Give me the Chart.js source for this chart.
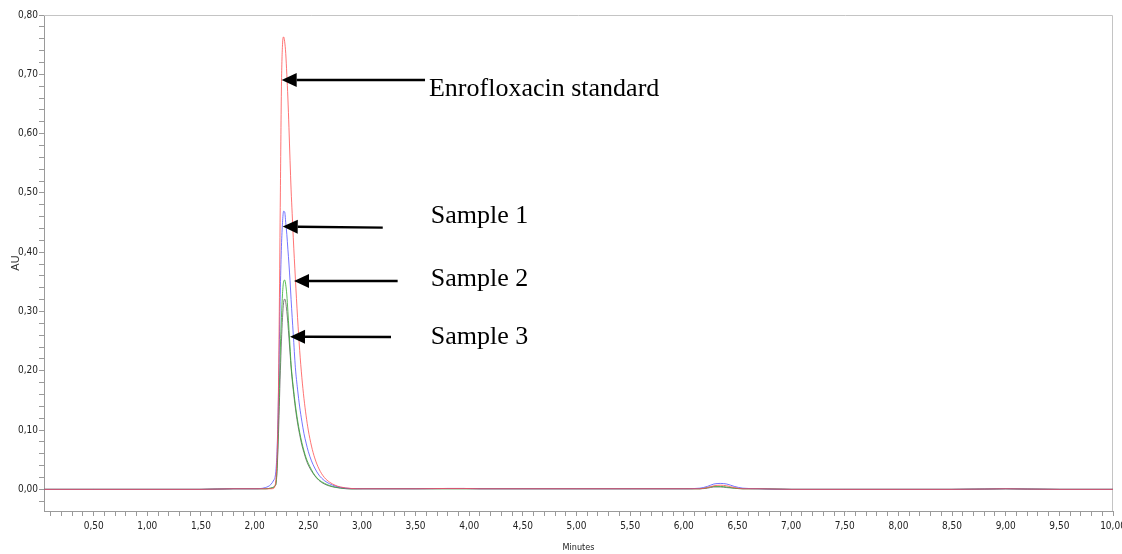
<!DOCTYPE html>
<html>
<head>
<meta charset="utf-8">
<script src="https://cdn.jsdelivr.net/npm/chart.js@4/dist/chart.umd.min.js"></script>
<style>
  html, body { margin: 0; padding: 0; background: #ffffff; }
  #wrap { width: 1122px; height: 554px; }
</style>
</head>
<body>
<div id="wrap"><canvas id="c" width="1122" height="554"></canvas></div>
<script>
// ---- data (minutes, AU) ----
const time = [0.04, 0.5, 1.0, 1.5, 1.8, 2.0, 2.1, 2.15, 2.18, 2.19,
  2.20, 2.21, 2.22, 2.23, 2.24, 2.25, 2.26, 2.27, 2.28, 2.29,
  2.30, 2.31, 2.32, 2.33, 2.34, 2.35, 2.36, 2.38, 2.40, 2.42,
  2.44, 2.46, 2.48, 2.50, 2.53, 2.56, 2.60, 2.65, 2.70, 2.75,
  2.80, 2.90, 3.0, 3.5, 3.8, 3.95, 4.1, 4.5, 5.0, 5.5,
  6.0, 6.15, 6.22, 6.28, 6.34, 6.40, 6.47, 6.55, 6.7, 7.0,
  7.5, 8.0, 8.5, 8.8, 9.0, 9.2, 9.5, 10.0];

const enrofloxacinStd = [0, 0, 0, 0, 0.001, 0.001, 0.001, 0.001, 0.002, 0.006,
  0.02, 0.06, 0.14, 0.30, 0.50, 0.68, 0.75, 0.763, 0.755, 0.735,
  0.70, 0.66, 0.61, 0.555, 0.505, 0.465, 0.425, 0.355, 0.29, 0.234,
  0.189, 0.153, 0.124, 0.100, 0.073, 0.053, 0.0345, 0.020, 0.012, 0.007,
  0.004, 0.0015, 0.001, 0.001, 0.0015, 0.0015, 0.001, 0.001, 0.001, 0.001,
  0.001, 0.001, 0.003, 0.006, 0.007, 0.006, 0.003, 0.001, 0.001, 0,
  0, 0, 0, 0.0005, 0.001, 0.0005, 0, 0];

const sample1 = [0, 0, 0, 0, 0.001, 0.001, 0.003, 0.008, 0.016, 0.02,
  0.035, 0.07, 0.14, 0.24, 0.34, 0.41, 0.45, 0.469, 0.468, 0.45,
  0.43, 0.405, 0.38, 0.352, 0.32, 0.29, 0.262, 0.205, 0.169, 0.139,
  0.115, 0.094, 0.078, 0.064, 0.048, 0.036, 0.024, 0.0148, 0.0093, 0.0057,
  0.0035, 0.0013, 0.001, 0.001, 0.0015, 0.0015, 0.001, 0.001, 0.001, 0.001,
  0.001, 0.002, 0.005, 0.009, 0.010, 0.009, 0.005, 0.002, 0.001, 0,
  0, 0, 0, 0.0005, 0.001, 0.0005, 0, 0];

const sample2 = [0, 0, 0, 0, 0.001, 0.001, 0.001, 0.002, 0.004, 0.006,
  0.012, 0.04, 0.10, 0.17, 0.24, 0.29, 0.33, 0.35, 0.353, 0.345,
  0.328, 0.30, 0.27, 0.24, 0.21, 0.19, 0.173, 0.142, 0.117, 0.096,
  0.079, 0.065, 0.053, 0.044, 0.033, 0.024, 0.016, 0.0103, 0.0063, 0.0039,
  0.0024, 0.0009, 0.001, 0.001, 0.001, 0.001, 0.001, 0.001, 0.001, 0.001,
  0.001, 0.001, 0.003, 0.005, 0.005, 0.004, 0.002, 0.001, 0.001, 0,
  0, 0, 0, 0.0005, 0.001, 0.0005, 0, 0];

const sample3 = [0, 0, 0, 0, 0.001, 0.001, 0.001, 0.002, 0.004, 0.006,
  0.01, 0.035, 0.08, 0.14, 0.20, 0.25, 0.29, 0.315, 0.321, 0.315,
  0.30, 0.28, 0.255, 0.23, 0.205, 0.185, 0.168, 0.137, 0.112, 0.092,
  0.075, 0.062, 0.050, 0.041, 0.031, 0.023, 0.015, 0.009, 0.0055, 0.0034,
  0.002, 0.0007, 0.001, 0.001, 0.001, 0.001, 0.001, 0.001, 0.001, 0.001,
  0.001, 0.001, 0.002, 0.004, 0.004, 0.003, 0.002, 0.001, 0.001, 0,
  0, 0, 0, 0.0005, 0.001, 0.0005, 0, 0];

const seriesNames = ['Enrofloxacin standard', 'Sample 1', 'Sample 2', 'Sample 3'];

// annotation labels: text, arrow tip [min, AU], arrow tail [min, AU], text anchor [min, AU baseline]
const labelTexts = ['Enrofloxacin standard', 'Sample 1', 'Sample 2', 'Sample 3'];
const arrowTips  = [[2.252, 0.6905], [2.262, 0.4431], [2.367, 0.3515], [2.330, 0.2575]];
const arrowTails = [[3.588, 0.6905], [3.194, 0.4414], [3.333, 0.3515], [3.271, 0.2570]];
const textAnchors = [[3.625, 0.6635], [3.641, 0.4488], [3.641, 0.3436], [3.641, 0.2447]];

// ---- helpers ----
function pts(ys) { return time.map((t, i) => ({ x: t, y: ys[i] })); }
function fmt(v) { return v.toFixed(2).replace('.', ','); }
function isMult(v, step) { const r = v / step; return Math.abs(r - Math.round(r)) < 1e-6; }

const frameAndArrows = {
  id: 'frameAndArrows',
  beforeDatasetsDraw(chart) {
    const { ctx, chartArea: a } = chart;
    ctx.save();
    ctx.strokeStyle = '#c4c4c4';
    ctx.lineWidth = 1;
    ctx.beginPath();
    ctx.moveTo(a.left, a.top + 0.5);
    ctx.lineTo(a.right - 0.5, a.top + 0.5);
    ctx.lineTo(a.right - 0.5, a.bottom);
    ctx.stroke();
    ctx.restore();
  },
  afterDraw(chart) {
    const { ctx } = chart;
    const xs = chart.scales.x, ys = chart.scales.y;
    ctx.save();
    for (let i = 0; i < labelTexts.length; i++) {
      const tx = xs.getPixelForValue(arrowTips[i][0]);
      const ty = ys.getPixelForValue(arrowTips[i][1]);
      const sx = xs.getPixelForValue(arrowTails[i][0]);
      const sy = ys.getPixelForValue(arrowTails[i][1]);
      const ang = Math.atan2(ty - sy, tx - sx);
      const headLen = 15, headHalf = 7;
      const bx = tx - headLen * Math.cos(ang), by = ty - headLen * Math.sin(ang);
      ctx.strokeStyle = '#000';
      ctx.lineWidth = 2.4;
      ctx.beginPath();
      ctx.moveTo(sx, sy);
      ctx.lineTo(bx, by);
      ctx.stroke();
      ctx.fillStyle = '#000';
      ctx.beginPath();
      ctx.moveTo(tx, ty);
      ctx.lineTo(bx + headHalf * Math.sin(ang), by - headHalf * Math.cos(ang));
      ctx.lineTo(bx - headHalf * Math.sin(ang), by + headHalf * Math.cos(ang));
      ctx.closePath();
      ctx.fill();
      ctx.font = "26px 'Liberation Serif', 'Times New Roman', serif";
      ctx.textAlign = 'left';
      ctx.textBaseline = 'alphabetic';
      ctx.fillText(labelTexts[i], xs.getPixelForValue(textAnchors[i][0]), ys.getPixelForValue(textAnchors[i][1]));
    }
    ctx.restore();
  }
};

const colors = ['#ff5050', '#5050ff', '#2eaa2e', '#606060'];
const values = [enrofloxacinStd, sample1, sample2, sample3];

Chart.defaults.font.family = "'Liberation Sans Narrow', 'DejaVu Sans Condensed', 'Liberation Sans', sans-serif";
Chart.defaults.font.size = 10;
Chart.defaults.color = '#222';

new Chart(document.getElementById('c'), {
  type: 'scatter',
  data: {
    datasets: values.map((v, i) => ({
      label: seriesNames[i],
      data: pts(v),
      showLine: true,
      borderColor: colors[i],
      borderWidth: 0.8,
      pointRadius: 0,
      pointHoverRadius: 0,
      cubicInterpolationMode: 'monotone',
      fill: false
    }))
  },
  options: {
    responsive: false,
    animation: false,
    devicePixelRatio: 1,
    layout: { padding: { top: 15, right: 9, left: 0, bottom: 0 } },
    plugins: { legend: { display: false }, tooltip: { enabled: false } },
    scales: {
      x: {
        type: 'linear',
        min: 0.037,
        max: 10,
        afterFit(scale) { scale.height = 43; scale.paddingRight = 0; scale.paddingLeft = 0; },
        border: { display: true, color: '#9a9a9a', width: 1 },
        grid: { drawOnChartArea: false, drawTicks: true, tickLength: 5, tickColor: '#9a9a9a' },
        ticks: {
          stepSize: 0.1,
          includeBounds: false,
          autoSkip: false,
          maxRotation: 0,
          minRotation: 0,
          padding: 4,
          maxTicksLimit: 500,
          color: '#222',
          callback: (v) => isMult(v, 0.5) ? fmt(v) : ''
        },
        title: {
          display: true,
          text: 'Minutes',
          font: { size: 9 },
          color: '#222',
          padding: { top: 0, bottom: 1 }
        }
      },
      y: {
        type: 'linear',
        min: -0.0365,
        max: 0.8,
        afterFit(scale) { scale.width = 44; scale.paddingTop = 0; scale.paddingBottom = 0; },
        border: { display: true, color: '#9a9a9a', width: 1 },
        grid: { drawOnChartArea: false, drawTicks: true, tickLength: 5, tickColor: '#9a9a9a' },
        ticks: {
          stepSize: 0.02,
          includeBounds: false,
          autoSkip: false,
          padding: 1,
          maxTicksLimit: 500,
          color: '#222',
          callback: (v) => isMult(v, 0.1) ? fmt(v) : ''
        },
        title: {
          display: true,
          text: 'AU',
          font: { size: 11, family: "'Liberation Sans', Arial, sans-serif" },
          color: '#333',
          padding: { top: 9, bottom: 0 }
        }
      }
    }
  },
  plugins: [frameAndArrows]
});
</script>
</body>
</html>
